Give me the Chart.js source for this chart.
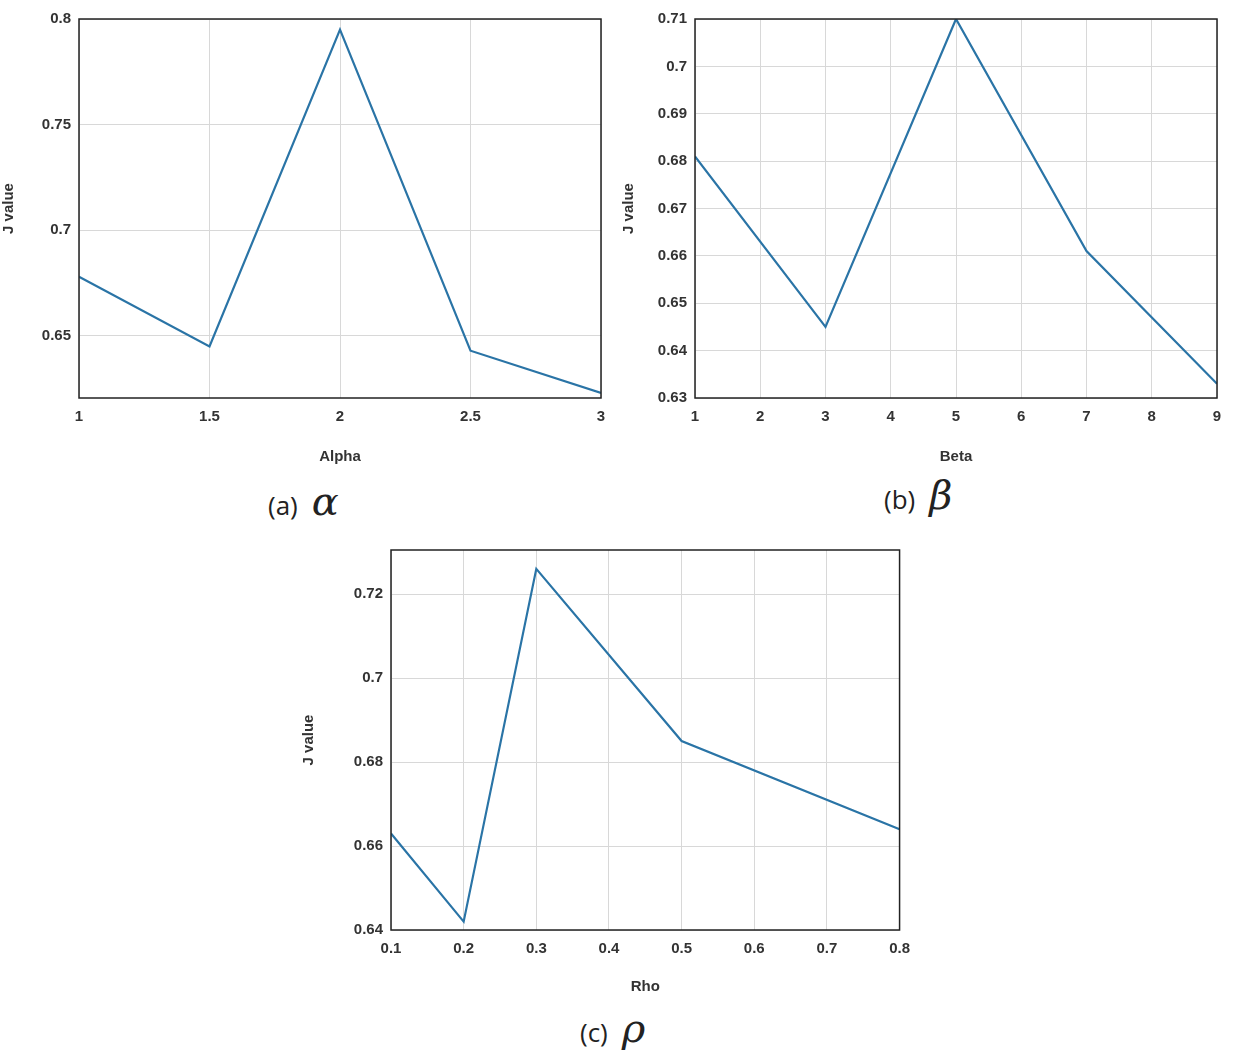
<!DOCTYPE html>
<html>
<head>
<meta charset="utf-8">
<script src="https://cdn.jsdelivr.net/npm/chart.js@4"></script>
<style>
body { margin: 0; background: #fff; width: 1243px; height: 1059px; position: relative; overflow: hidden; }
.box { position: absolute; }
.cap { position: absolute; font-family: "Open Sans", sans-serif; font-size: 26px; color: #222; }
.cap i { font-family: "DejaVu Serif", "Liberation Serif", serif; font-size: 40px; margin-left: 14px; }
</style>
</head>
<body>
<div class="box" style="left:0;top:0;width:620px;height:470px"><canvas id="ca"></canvas></div>
<div class="box" style="left:620px;top:0;width:623px;height:470px"><canvas id="cb"></canvas></div>
<div class="box" style="left:300px;top:530px;width:620px;height:470px"><canvas id="cc"></canvas></div>
<div class="cap" style="left:268px;top:478px">(a)<i>α</i></div>
<div class="cap" style="left:884px;top:472px">(b)<i>β</i></div>
<div class="cap" style="left:580px;top:1005px">(c)<i>ρ</i></div>
<script>
const alphaX = [1, 1.5, 2, 2.5, 3];
const alphaJ = [0.678, 0.645, 0.795, 0.643, 0.623];
const alphaYTicks = [0.65, 0.7, 0.75, 0.8];

const betaX = [1, 3, 5, 7, 9];
const betaJ = [0.681, 0.645, 0.710, 0.661, 0.633];
const betaYTicks = [0.63, 0.64, 0.65, 0.66, 0.67, 0.68, 0.69, 0.7, 0.71];

const rhoX = [0.1, 0.2, 0.3, 0.5, 0.8];
const rhoJ = [0.663, 0.642, 0.726, 0.685, 0.664];
const rhoYTicks = [0.64, 0.66, 0.68, 0.7, 0.72];

const tickFont = { family: 'Liberation Sans', size: 15, weight: 'bold' };

const frame = {
    id: 'frame',
    afterDraw(chart) {
        const a = chart.chartArea, c = chart.ctx;
        c.save();
        c.strokeStyle = '#222';
        c.lineWidth = 1.5;
        c.strokeRect(a.left, a.top, a.right - a.left, a.bottom - a.top);
        c.restore();
    }
};

function makeChart(id, xs, ys, o) {
    new Chart(document.getElementById(id), {
        type: 'scatter',
        data: { datasets: [{
            data: xs.map((x, i) => ({ x: x, y: ys[i] })),
            showLine: true, borderColor: '#2a74a6', borderWidth: 2.2,
            pointRadius: 0, tension: 0
        }] },
        options: {
            responsive: true, maintainAspectRatio: false, animation: false,
            layout: { padding: { top: o.top, right: o.right, left: 0, bottom: 0 } },
            plugins: { legend: { display: false }, tooltip: { enabled: false } },
            scales: {
                x: {
                    type: 'linear', min: o.xmin, max: o.xmax,
                    afterBuildTicks: s => { s.ticks = o.xTicks.map(v => ({ value: v })); },
                    afterFit: s => { s.height = o.xh; },
                    grid: { color: '#d8d8d8', drawTicks: false },
                    border: { display: false },
                    ticks: { color: '#333', font: tickFont, padding: 10, callback: v => String(v) },
                    title: { display: true, text: o.xTitle, color: '#333', font: tickFont, padding: 4 }
                },
                y: {
                    min: o.ymin, max: o.ymax,
                    afterBuildTicks: s => { s.ticks = o.yTicks.map(v => ({ value: v })); },
                    afterFit: s => { s.width = o.yw; },
                    grid: { color: '#d8d8d8', drawTicks: false },
                    border: { display: false },
                    ticks: { color: '#333', font: tickFont, padding: 8, callback: v => String(v) },
                    title: { display: true, text: 'J value', color: '#333', font: tickFont, padding: 0 }
                }
            }
        },
        plugins: [frame]
    });
}

makeChart('ca', alphaX, alphaJ, { top: 19, right: 19, xh: 72, yw: 79, xmin: 1, xmax: 3,
    xTicks: [1, 1.5, 2, 2.5, 3], ymin: 0.6206, ymax: 0.8, yTicks: alphaYTicks, xTitle: 'Alpha' });
makeChart('cb', betaX, betaJ, { top: 19, right: 26, xh: 72, yw: 75, xmin: 1, xmax: 9,
    xTicks: [1, 2, 3, 4, 5, 6, 7, 8, 9], ymin: 0.63, ymax: 0.71, yTicks: betaYTicks, xTitle: 'Beta' });
makeChart('cc', rhoX, rhoJ, { top: 20, right: 14, xh: 70, yw: 91, xmin: 0.1, xmax: 0.8,
    xTicks: [0.1, 0.2, 0.3, 0.4, 0.5, 0.6, 0.7, 0.8], ymin: 0.64, ymax: 0.7305, yTicks: rhoYTicks, xTitle: 'Rho' });
</script>
</body>
</html>
